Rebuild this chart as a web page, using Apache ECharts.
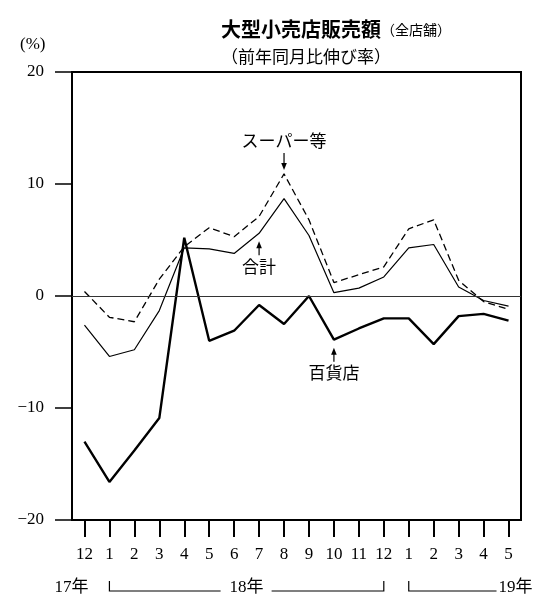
<!DOCTYPE html>
<html>
<head>
<meta charset="utf-8">
<script src="https://cdn.jsdelivr.net/npm/echarts@6/dist/echarts.min.js"></script>
<style>
  html, body { margin: 0; padding: 0; background: #fff; }
  #chart { width: 540px; height: 596px; }
</style>
</head>
<body>
<div id="chart"></div>
<script>
// 月（17年12月〜19年5月）
const months = ['12', '1', '2', '3', '4', '5', '6', '7', '8', '9', '10', '11', '12', '1', '2', '3', '4', '5']
// 前年同月比伸び率（%）
const department = [-13.0, -16.6, -13.8, -10.9, 5.2, -4.0, -3.1, -0.8, -2.5, 0.0, -3.9, -2.9, -2.0, -2.0, -4.3, -1.8, -1.6, -2.2]
const total = [-2.6, -5.4, -4.8, -1.3, 4.3, 4.2, 3.8, 5.6, 8.7, 5.4, 0.3, 0.7, 1.7, 4.3, 4.6, 0.8, -0.4, -0.9]
const supermarket = [0.4, -1.9, -2.3, 1.5, 4.4, 6.1, 5.3, 7.1, 10.9, 6.8, 1.2, 1.9, 2.6, 6.0, 6.8, 1.4, -0.5, -1.2]
const yTicks = [-20, -10, 0, 10, 20]

// 注記（系列名, カテゴリ位置, 値, 矢印の向き）
const notes = [
  { text: 'スーパー等', idx: 8, value: supermarket[8], dir: 'down' },
  { text: '合計', idx: 7, value: total[7], dir: 'up' },
  { text: '百貨店', idx: 10, value: department[10], dir: 'up' },
]
// 年の区切り
const years = [
  { text: '17年', from: 0, to: 0 },
  { text: '18年', from: 1, to: 12 },
  { text: '19年', from: 13, to: 17 },
]

const FONT = "'Liberation Serif', 'Noto Sans CJK JP', serif"
const chart = echarts.init(document.getElementById('chart'))

const option = {
  animation: false,
  backgroundColor: '#fff',
  title: [
    {
      text: '{a|大型小売店販売額}{b|（全店舗）}',
      left: 216,
      top: 14,
      textStyle: {
        rich: {
          a: { fontFamily: "'Noto Sans CJK JP'", fontSize: 20, fontWeight: 'bold', color: '#000' },
          b: { fontFamily: "'Noto Sans CJK JP'", fontSize: 14, fontWeight: 'normal', color: '#000', padding: [2, 0, 0, 0] },
        },
      },
    },
    {
      text: '（前年同月比伸び率）',
      left: 216,
      top: 43,
      textStyle: { fontFamily: "'Noto Sans CJK JP'", fontSize: 17, fontWeight: 'normal', color: '#000' },
    },
  ],
  grid: {
    left: 72,
    right: 19,
    top: 72,
    bottom: 76,
    show: true,
    borderColor: '#000',
    borderWidth: 2,
  },
  xAxis: {
    type: 'category',
    data: months,
    boundaryGap: true,
    axisLine: { show: true, onZero: false, lineStyle: { color: '#000', width: 2 } },
    axisTick: { show: true, alignWithLabel: true, interval: 0, length: 17, lineStyle: { color: '#000', width: 2 } },
    axisLabel: { interval: 0, margin: 26, color: '#000', fontSize: 17, fontFamily: FONT },
    splitLine: { show: false },
  },
  yAxis: {
    type: 'value',
    min: yTicks[0],
    max: yTicks[yTicks.length - 1],
    interval: 10,
    axisLine: { show: true, lineStyle: { color: '#000', width: 2 } },
    axisTick: { show: true, length: 17, lineStyle: { color: '#000', width: 1.5 } },
    axisLabel: {
      margin: 28,
      color: '#000',
      fontSize: 17,
      fontFamily: FONT,
      formatter: (v) => String(v).replace('-', '−'),
    },
    splitLine: { show: false },
  },
  series: [
    {
      name: 'スーパー等',
      type: 'line',
      data: supermarket,
      symbol: 'none',
      lineStyle: { color: '#000', width: 1.3, type: [7, 4] },
      z: 3,
    },
    {
      name: '合計',
      type: 'line',
      data: total,
      symbol: 'none',
      lineStyle: { color: '#000', width: 1.2 },
      z: 3,
    },
    {
      name: '百貨店',
      type: 'line',
      data: department,
      symbol: 'none',
      lineStyle: { color: '#000', width: 2.4 },
      z: 4,
      markLine: {
        silent: true,
        symbol: 'none',
        label: { show: false },
        lineStyle: { color: '#333', width: 1, type: 'solid' },
        data: [{ yAxis: 0 }],
      },
    },
  ],
}

chart.setOption(option)

// 座標変換して注記と年ラベルを配置
const px = (i, v) => chart.convertToPixel({ gridIndex: 0 }, [i, v])
const graphics = []

graphics.push({
  type: 'text',
  left: 20,
  top: 36,
  style: { text: '(%)', fontSize: 17, fontFamily: FONT, fill: '#000' },
})

const arrow = (x, y1, y2) => {
  // y1: tail, y2: tip
  const d = y2 > y1 ? 1 : -1
  return [
    { type: 'line', shape: { x1: x, y1: y1, x2: x, y2: y2 - d * 5 }, style: { stroke: '#000', lineWidth: 1.2 }, z: 10 },
    {
      type: 'polygon',
      shape: { points: [[x - 2.8, y2 - d * 7], [x + 2.8, y2 - d * 7], [x, y2]] },
      style: { fill: '#000' },
      z: 10,
    },
  ]
}

notes.forEach((n) => {
  const [x, y] = px(n.idx, n.value)
  if (n.dir === 'down') {
    const tip = y - 4
    const tail = tip - 17
    graphics.push(...arrow(x, tail, tip))
    graphics.push({
      type: 'text',
      x: x,
      y: tail - 10,
      style: { text: n.text, fontSize: 17, fontFamily: FONT, fill: '#000', align: 'center', verticalAlign: 'middle' },
      z: 10,
    })
  } else {
    const tip = y + 8
    const tail = tip + 14
    graphics.push(...arrow(x, tail, tip))
    graphics.push({
      type: 'text',
      x: x,
      y: tail + 13,
      style: { text: n.text, fontSize: 17, fontFamily: FONT, fill: '#000', align: 'center', verticalAlign: 'middle' },
      z: 10,
    })
  }
})

const yearY = 588
const bracketTop = 581
const bracketBottom = 591
years.forEach((yr, k) => {
  const xa = px(yr.from, 0)[0]
  const xb = px(yr.to, 0)[0]
  const textStyle = { text: yr.text, fontSize: 17, fontFamily: FONT, fill: '#000', verticalAlign: 'middle' }
  if (k === 0) {
    graphics.push({ type: 'text', x: xa + 4, y: yearY, style: Object.assign({ align: 'right' }, textStyle) })
  } else if (k === 1) {
    const mid = (xa + xb) / 2
    graphics.push({ type: 'text', x: mid, y: yearY, style: Object.assign({ align: 'center' }, textStyle) })
    graphics.push({
      type: 'polyline',
      shape: { points: [[xa, bracketTop], [xa, bracketBottom], [mid - 26, bracketBottom]] },
      style: { stroke: '#000', lineWidth: 1.2, fill: null },
    })
    graphics.push({
      type: 'polyline',
      shape: { points: [[mid + 25, bracketBottom], [xb, bracketBottom], [xb, bracketTop]] },
      style: { stroke: '#000', lineWidth: 1.2, fill: null },
    })
  } else {
    const end = xb - 12
    graphics.push({ type: 'text', x: end + 2, y: yearY, style: Object.assign({ align: 'left' }, textStyle) })
    graphics.push({
      type: 'polyline',
      shape: { points: [[xa, bracketTop], [xa, bracketBottom], [end, bracketBottom]] },
      style: { stroke: '#000', lineWidth: 1.2, fill: null },
    })
  }
})

chart.setOption({ graphic: graphics })
</script>
</body>
</html>
